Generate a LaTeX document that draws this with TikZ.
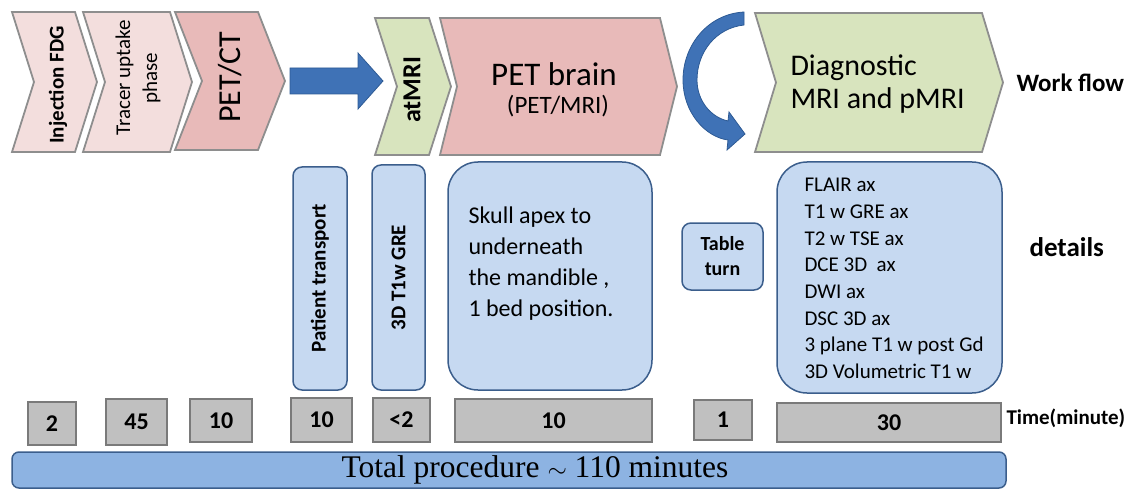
\documentclass[tikz,border=0pt]{standalone}
\usepackage{fontspec}
\setmainfont{Carlito}
\newfontfamily\timesfont{Liberation Serif}
\usetikzlibrary{positioning}
\definecolor{pinklt}{HTML}{F3DEDD}
\definecolor{pinkdk}{HTML}{E8BAB9}
\definecolor{greenlt}{HTML}{D8E4BE}
\definecolor{chevline}{HTML}{8E8E8E}
\definecolor{arrowblue}{HTML}{3F72B6}
\definecolor{arrowedge}{HTML}{2D5A94}
\definecolor{boxblue}{HTML}{C6D9F1}
\definecolor{boxline}{HTML}{3B5E8C}
\definecolor{timegray}{HTML}{C0C0C0}
\definecolor{timeline}{HTML}{7A7A7A}
\definecolor{barblue}{HTML}{8DB3E2}
% left x, top-right x, top y, bottom y, point depth, fill
\newcommand{\chevron}[6]{%
\draw[chev, fill=#6] (#1,#3) -- (#2,#3) -- ({#2+#5},{(#3+#4)/2}) -- (#2,#4)
 -- (#1,#4) -- ({#1+#5},{(#3+#4)/2}) -- cycle;}
\begin{document}
\begin{tikzpicture}[x=1pt,y=-1pt,
  chev/.style={draw=chevline, line width=1.8pt, line join=miter},
  info/.style={draw=boxline, fill=boxblue, line width=1.5pt, rounded corners=#1},
  info/.default=9pt,
  tbox/.style={draw=timeline, fill=timegray, line width=1.5pt, inner sep=0pt,
    font=\fontsize{24}{28}\selectfont\bfseries},
  bigarrow/.style={fill=arrowblue, draw=arrowedge, line width=0.8pt},
  side/.style={anchor=west, font=\bfseries}]
\useasboundingbox (0,0) rectangle (1129,489);
% work flow
\chevron{12}{75}{12}{152}{22}{pinklt}
\chevron{83}{170}{12}{152}{22}{pinklt}
\chevron{175}{258}{12}{150}{27}{pinkdk}
\chevron{375}{429}{18}{155}{22}{greenlt}
\chevron{440}{660}{18}{155}{17}{pinkdk}
\chevron{755}{982}{13}{152}{21}{greenlt}
\node[rotate=90, font=\fontsize{21}{24}\selectfont\bfseries] (inj) at (58,85) {Injection FDG};
\node[rotate=90, align=center, font=\fontsize{21}{27}\selectfont] (tracer) at (138,78) {Tracer uptake\\phase};
\node[rotate=90, font=\fontsize{32}{36}\selectfont] (petct) at (230,77) {PET/CT};
\node[rotate=90, font=\fontsize{26}{30}\selectfont\bfseries] (atmri) at (412,90) {atMRI};
\node[font=\fontsize{33}{36}\selectfont] (petbrain) at (554,74) {PET brain};
\node[font=\fontsize{25}{28}\selectfont] (petmri) at (558,106) {(PET/MRI)};
\node[anchor=west, align=left, font=\fontsize{30}{33}\selectfont] (diag) at (787,84) {Diagnostic\\MRI and pMRI};
\node[side, font=\fontsize{25}{28}\selectfont\bfseries] (workflow) at (1013,83) {Work flow};
\draw[bigarrow] (290,68) -- (358,68) -- (358,53) -- (383,81) -- (358,109) -- (358,94)
 -- (290,94) -- cycle;
\draw[bigarrow] (744,12) .. controls (708,14) and (683,45) .. (683,80)
 .. controls (683,112) and (705,137) .. (728,140) -- (727,150) -- (745,134)
 -- (729,112) -- (728,121) .. controls (710,117) and (697,100) .. (697,80)
 .. controls (697,52) and (716,28) .. (744,25) -- cycle;
% details
\node[info, rotate=90, minimum width=223pt, minimum height=54pt,
 font=\fontsize{21}{24}\selectfont\bfseries] (transport) at (320,278.5) {Patient transport};
\node[info, rotate=90, minimum width=225pt, minimum height=53pt,
 font=\fontsize{21}{24}\selectfont\bfseries] (gre) at (398.5,277.5) {3D T1w GRE};
\node[info=30pt, minimum width=204pt, minimum height=228pt] (skull) at (550,276) {};
\node[anchor=west, align=left, font=\fontsize{24}{31}\selectfont] (skulltxt) at (465,264)
 {Skull apex to\\underneath\\the mandible ,\\1 bed position.};
\node[info, minimum width=81pt, minimum height=67pt, align=center,
 font=\fontsize{20}{25}\selectfont\bfseries] (turn) at (722.5,256.5) {Table\\turn};
\node[info=30pt, minimum width=225pt, minimum height=231pt] (seq) at (889.5,277.5) {};
\node[anchor=west, align=left, font=\fontsize{21}{26.7}\selectfont] (seqtxt) at (801,278.5)
 {FLAIR ax\\T1 w GRE ax\\T2 w TSE ax\\DCE 3D\ \ ax\\DWI ax\\DSC 3D ax\\3 plane T1 w post Gd\\3D Volumetric T1 w};
\node[side, font=\fontsize{27}{30}\selectfont\bfseries] (details) at (1026,247) {details};
% time
\node[tbox, minimum width=48pt, minimum height=43pt] (t1) at (52,423.5) {2};
\node[tbox, minimum width=61pt, minimum height=46pt] (t2) at (136.5,422) {45};
\node[tbox, minimum width=62pt, minimum height=43pt] (t3) at (221,420.5) {10};
\node[tbox, minimum width=61pt, minimum height=44pt] (t4) at (321.5,420) {10};
\node[tbox, minimum width=57pt, minimum height=44pt] (t5) at (401.5,420) {<2};
\node[tbox, minimum width=197pt, minimum height=43pt] (t6) at (553.5,420.5) {10};
\node[tbox, minimum width=58pt, minimum height=40pt] (t7) at (723,420) {1};
\node[tbox, minimum width=224pt, minimum height=39pt] (t8) at (889,422.5) {30};
\node[side, font=\fontsize{21}{25}\selectfont\bfseries] (timelbl) at (1003,418) {Time(minute)};
\draw[fill=barblue, draw=boxline, line width=1.5pt, rounded corners=7pt] (12,452) rectangle (1006,488);
\node[font=\timesfont\fontsize{31.5}{34}\selectfont] (total) at (535,470) {Total procedure $\sim$ 110 minutes};
\end{tikzpicture}
\end{document}
